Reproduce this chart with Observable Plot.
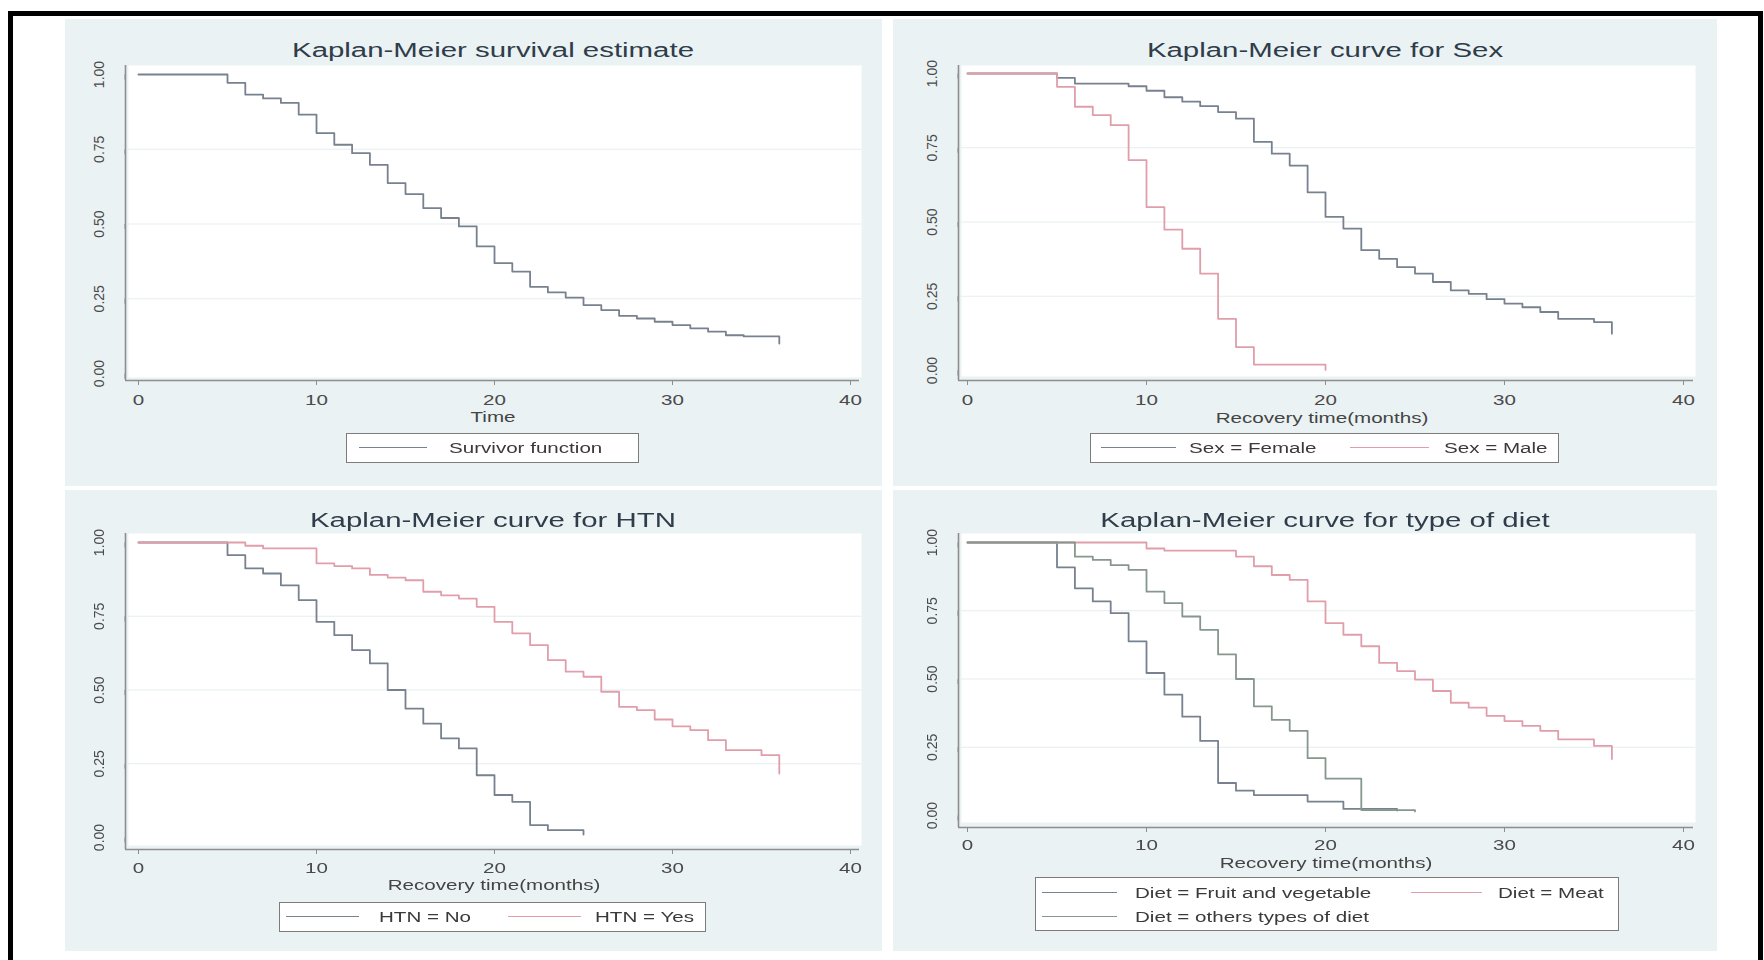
<!DOCTYPE html>
<html><head><meta charset="utf-8">
<script src="https://cdn.jsdelivr.net/npm/d3@7"></script>
<script src="https://cdn.jsdelivr.net/npm/@observablehq/plot@0.6"></script>
<style>
html,body{margin:0;padding:0;background:#fff;width:1764px;height:960px;overflow:hidden;font-family:"Liberation Sans",Arial,sans-serif;}
#wrap{position:absolute;left:0;top:0;width:1764px;height:960px;filter:blur(0.45px);}
#border{position:absolute;left:8px;top:11px;width:1755px;height:1000px;border:5px solid #000;box-sizing:border-box;}
.panel{position:absolute;background:#eaf2f3;}
.panel svg{position:absolute;left:0;top:0;overflow:visible;}
.txt{position:absolute;white-space:nowrap;line-height:1;}
.lgbox{position:absolute;background:#fff;border:1.5px solid #7c7c7c;box-sizing:border-box;}
.lgline{position:absolute;height:0;}
</style></head>
<body><div id="wrap"><div id="border"></div></div>
<script>
// ---------- data ----------
const monthTicks = [0, 10, 20, 30, 40];
const survTicks = [0, 0.25, 0.5, 0.75, 1];
const survTickLabels = ["0.00", "0.25", "0.50", "0.75", "1.00"];
const gridVals = [0.25, 0.5, 0.75];

// Panel 1: overall
const allTime = [0,5,6,7,8,9,10,11,12,13,14,15,16,17,18,19,20,21,22,23,24,25,26,27,28,29,30,31,32,33,34,36];
const allSurv = [1,0.972,0.933,0.92,0.905,0.866,0.804,0.765,0.737,0.698,0.637,0.600,0.553,0.520,0.492,0.425,0.369,0.341,0.290,0.271,0.254,0.229,0.212,0.193,0.184,0.173,0.162,0.151,0.140,0.128,0.124,0.100];

// Panel 2: sex
const femaleTime = [0,5,6,9,10,11,12,13,14,15,16,17,18,19,20,21,22,23,24,25,26,27,28,29,30,31,32,33,35,36];
const femaleSurv = [1,0.985,0.966,0.957,0.942,0.92,0.905,0.89,0.87,0.848,0.77,0.73,0.69,0.60,0.517,0.478,0.405,0.376,0.348,0.326,0.298,0.27,0.258,0.24,0.225,0.213,0.197,0.174,0.163,0.124];
const maleTime = [0,5,6,7,8,9,10,11,12,13,14,15,16,20];
const maleSurv = [1,0.955,0.888,0.86,0.826,0.708,0.55,0.474,0.41,0.326,0.174,0.079,0.02,0.002];

// Panel 3: HTN
const htnNoTime = [0,5,6,7,8,9,10,11,12,13,14,15,16,17,18,19,20,21,22,23,25];
const htnNoSurv = [1,0.957,0.912,0.895,0.855,0.805,0.731,0.686,0.635,0.59,0.50,0.437,0.386,0.336,0.302,0.211,0.144,0.121,0.042,0.025,0.01];
const htnYesTime = [0,6,7,10,11,12,13,14,15,16,17,18,19,20,21,22,23,24,25,26,27,28,29,30,31,32,33,35,36];
const htnYesSurv = [1,0.989,0.98,0.929,0.92,0.912,0.89,0.881,0.872,0.833,0.821,0.81,0.782,0.731,0.692,0.652,0.601,0.562,0.545,0.494,0.443,0.432,0.40,0.377,0.364,0.33,0.296,0.279,0.217];

// Panel 4: diet
const fruitTime = [0,5,6,7,8,9,10,11,12,13,14,15,16,19,21,24];
const fruitSurv = [1,0.909,0.832,0.784,0.741,0.638,0.522,0.443,0.362,0.273,0.119,0.091,0.075,0.051,0.024,0.018];
const meatTime = [0,10,11,15,16,17,18,19,20,21,22,23,24,25,26,27,28,29,30,31,32,33,35,36];
const meatSurv = [1,0.978,0.97,0.948,0.913,0.881,0.863,0.784,0.705,0.662,0.62,0.559,0.529,0.498,0.456,0.413,0.395,0.365,0.346,0.328,0.31,0.279,0.255,0.207];
const otherTime = [0,6,7,8,9,10,11,12,13,14,15,16,17,18,19,20,22,25];
const otherSurv = [1,0.948,0.936,0.917,0.90,0.82,0.778,0.729,0.68,0.59,0.50,0.40,0.35,0.31,0.21,0.135,0.02,0.015];

const titles = ["Kaplan-Meier survival estimate","Kaplan-Meier curve for Sex","Kaplan-Meier curve for HTN","Kaplan-Meier curve for type of diet"];
const xTitles = ["Time","Recovery time(months)","Recovery time(months)","Recovery time(months)"];

// ---------- style ----------
const C1 = "#77818f", C2 = "#e09eaa", C3 = "#86978d";
const STRETCH = 1.47;
const wrap = document.getElementById("wrap");

function txt(x, y, s, {size = 14, color = "#444", anchor = "middle"} = {}) {
  const d = document.createElement("div");
  d.className = "txt";
  d.textContent = s;
  d.style.left = x + "px"; d.style.top = y + "px";
  d.style.fontSize = size + "px"; d.style.color = color;
  if (anchor === "middle") d.style.transform = `translate(-50%,-50%) scaleX(${STRETCH})`;
  else { d.style.transformOrigin = "0 50%"; d.style.transform = `translateY(-50%) scaleX(${STRETCH})`; }
  wrap.appendChild(d);
}

function legend(box, items) {
  const b = document.createElement("div");
  b.className = "lgbox";
  b.style.left = box[0] + "px"; b.style.top = box[1] + "px";
  b.style.width = (box[2] - box[0]) + "px"; b.style.height = (box[3] - box[1]) + "px";
  wrap.appendChild(b);
  for (const it of items) {
    const l = document.createElement("div");
    l.className = "lgline";
    l.style.left = it.x1 + "px"; l.style.top = (it.y - 0.8) + "px";
    l.style.width = (it.x2 - it.x1) + "px";
    l.style.borderTop = `1.6px solid ${it.color}`;
    wrap.appendChild(l);
    txt(it.tx, it.y, it.label, {size: 14, color: "#3a3a3a", anchor: "start"});
  }
}

function toRows(times, survs) { return times.map((t, i) => ({t, s: survs[i]})); }

function panel(cfg) {
  const {px, py, pw, ph, fl, fr, ft, fb, x0, x40, y1, y0, axY, series, pad = 10} = cfg;
  const div = document.createElement("div");
  div.className = "panel";
  div.style.left = px + "px"; div.style.top = py + "px";
  div.style.width = pw + "px"; div.style.height = ph + "px";
  wrap.appendChild(div);
  const axX = fl - 3; // y-axis line x
  const svg = Plot.plot({
    width: pw, height: ph,
    marginLeft: fl - px, marginRight: px + pw - fr, marginTop: ft - py, marginBottom: py + ph - fb,
    x: {domain: [0, 40], insetLeft: x0 - fl, insetRight: fr - x40},
    y: {domain: [0, 1], insetTop: y1 - ft, insetBottom: fb - y0},
    style: {background: "transparent", fontFamily: "Liberation Sans, Arial, sans-serif", fontSize: "14px", color: "#4a4a4a", overflow: "visible"},
    marks: [
      Plot.frame({fill: "#fff", stroke: null}),
      Plot.ruleY(gridVals, {stroke: "#e6edef", strokeWidth: 1}),
      Plot.ruleX([0], {dx: axX - x0, insetBottom: -(axY - fb), stroke: "#8e8e8e", strokeWidth: 1.6}),
      Plot.ruleY([0], {dy: axY - y0, insetLeft: -3, insetRight: 2, stroke: "#8e8e8e", strokeWidth: 1.6}),
      Plot.axisY(survTicks, {anchor: "left", tickFormat: d => survTickLabels[survTicks.indexOf(d)], tickSize: 5, tickPadding: 21, dx: -3, rotate: -90, textAnchor: "middle", stroke: "#8e8e8e", fill: "#4a4a4a", fontSize: 14, label: null}),
      Plot.axisX(monthTicks, {anchor: "bottom", tickSize: 5, tickPadding: pad, dy: axY - fb, stroke: "#8e8e8e", fill: "#4a4a4a", fontSize: 14, label: null}),
      ...series.map(s => Plot.line(toRows(s.time, s.surv), {x: "t", y: "s", curve: "step-after", stroke: s.color, strokeWidth: 1.8}))
    ]
  });
  div.appendChild(svg);
  // horizontal stretch of x tick labels to match the reference's proportions
  svg.querySelectorAll('g[aria-label="x-axis tick label"] text').forEach(t => {
    const bb = t.getBBox();
    const cx = bb.x + bb.width / 2;
    const prev = t.getAttribute("transform") || "";
    t.setAttribute("transform", `${prev} translate(${cx},0) scale(${STRETCH},1) translate(${-cx},0)`);
  });
  txt(cfg.titleX, cfg.titleY, cfg.title, {size: 20, color: "#2f3c4a"});
  txt(cfg.xtX, cfg.xtY, cfg.xTitle, {size: 14, color: "#444"});
}

panel({px: 65, py: 19, pw: 817, ph: 467, fl: 128, fr: 861, ft: 65, fb: 377, x0: 138, x40: 850, y1: 74, y0: 373, axY: 380,
  series: [{time: allTime, surv: allSurv, color: C1}],
  title: titles[0], titleX: 493, titleY: 50, xTitle: xTitles[0], xtX: 493, xtY: 417});
panel({px: 893, py: 19, pw: 824, ph: 467, fl: 961, fr: 1695, ft: 65, fb: 376, x0: 967, x40: 1683, y1: 73, y0: 370, axY: 380,
  series: [{time: femaleTime, surv: femaleSurv, color: C1}, {time: maleTime, surv: maleSurv, color: C2}],
  title: titles[1], titleX: 1325, titleY: 50, xTitle: xTitles[1], xtX: 1322, xtY: 418});
panel({px: 65, py: 490, pw: 817, ph: 461, fl: 128, fr: 861, ft: 533, fb: 845, x0: 138, x40: 850, y1: 542, y0: 837, axY: 849,
  series: [{time: htnNoTime, surv: htnNoSurv, color: C1}, {time: htnYesTime, surv: htnYesSurv, color: C2}],
  title: titles[2], titleX: 493, titleY: 520, xTitle: xTitles[2], xtX: 494, xtY: 885, pad: 9});
panel({px: 893, py: 490, pw: 824, ph: 461, fl: 961, fr: 1695, ft: 533, fb: 822, x0: 967, x40: 1683, y1: 542, y0: 815, axY: 827,
  series: [{time: fruitTime, surv: fruitSurv, color: C1}, {time: meatTime, surv: meatSurv, color: C2}, {time: otherTime, surv: otherSurv, color: C3}],
  title: titles[3], titleX: 1325, titleY: 520, xTitle: xTitles[3], xtX: 1326, xtY: 863, pad: 8});

legend([346, 433, 639, 463], [{x1: 359, x2: 427, y: 448, tx: 449, label: "Survivor function", color: C1}]);
legend([1090, 433, 1559, 463], [
  {x1: 1101, x2: 1176, y: 448, tx: 1189, label: "Sex = Female", color: C1},
  {x1: 1350, x2: 1429, y: 448, tx: 1444, label: "Sex = Male", color: C2}]);
legend([279, 902, 706, 932], [
  {x1: 286, x2: 359, y: 917, tx: 379, label: "HTN = No", color: C1},
  {x1: 508, x2: 581, y: 917, tx: 595, label: "HTN = Yes", color: C2}]);
legend([1035, 877, 1619, 931], [
  {x1: 1042, x2: 1117, y: 893, tx: 1135, label: "Diet = Fruit and vegetable", color: C1},
  {x1: 1411, x2: 1482, y: 893, tx: 1498, label: "Diet = Meat", color: C2},
  {x1: 1042, x2: 1117, y: 917, tx: 1135, label: "Diet = others types of diet", color: C3}]);
</script>
</body></html>
